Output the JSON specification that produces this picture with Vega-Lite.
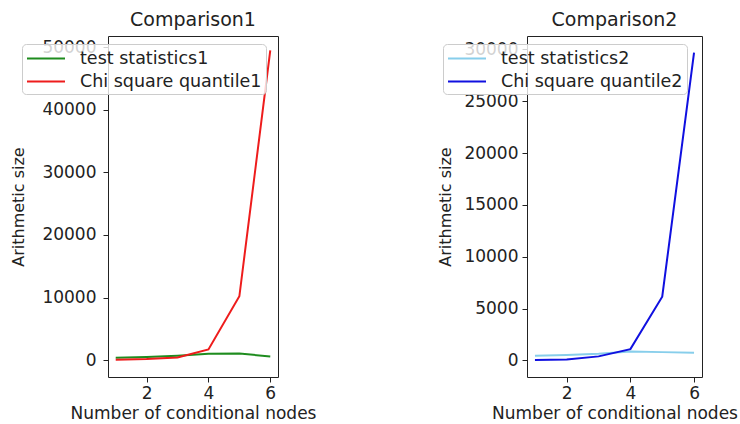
{
  "$schema": "https://vega.github.io/schema/vega-lite/v6.json",
  "padding": {"left": 10, "top": 10, "right": 0, "bottom": 0},
  "background": "white",
  "spacing": 120,
  "datasets": {
    "p1": [
      {"x": 1, "value": 370, "series": "test statistics1"},
      {"x": 2, "value": 480, "series": "test statistics1"},
      {"x": 3, "value": 690, "series": "test statistics1"},
      {"x": 4, "value": 1000, "series": "test statistics1"},
      {"x": 5, "value": 1050, "series": "test statistics1"},
      {"x": 6, "value": 590, "series": "test statistics1"},
      {"x": 1, "value": 50, "series": "Chi square quantile1"},
      {"x": 2, "value": 160, "series": "Chi square quantile1"},
      {"x": 3, "value": 430, "series": "Chi square quantile1"},
      {"x": 4, "value": 1700, "series": "Chi square quantile1"},
      {"x": 5, "value": 10200, "series": "Chi square quantile1"},
      {"x": 6, "value": 49500, "series": "Chi square quantile1"}
    ],
    "p2": [
      {"x": 1, "value": 450, "series": "test statistics2"},
      {"x": 2, "value": 520, "series": "test statistics2"},
      {"x": 3, "value": 650, "series": "test statistics2"},
      {"x": 4, "value": 860, "series": "test statistics2"},
      {"x": 5, "value": 800, "series": "test statistics2"},
      {"x": 6, "value": 740, "series": "test statistics2"},
      {"x": 1, "value": 40, "series": "Chi square quantile2"},
      {"x": 2, "value": 100, "series": "Chi square quantile2"},
      {"x": 3, "value": 390, "series": "Chi square quantile2"},
      {"x": 4, "value": 1090, "series": "Chi square quantile2"},
      {"x": 5, "value": 6150, "series": "Chi square quantile2"},
      {"x": 6, "value": 29700, "series": "Chi square quantile2"}
    ]
  },
  "config": {
    "font": "DejaVu Sans",
    "view": {"stroke": "#222", "strokeWidth": 1},
    "axis": {
      "grid": false, "domain": false, "tickColor": "#222", "tickSize": 5,
      "labelFontSize": 17, "labelColor": "#222", "labelFont": "DejaVu Sans",
      "titleFontSize": 16, "titleFontWeight": "normal", "titleColor": "#222", "titleFont": "DejaVu Sans"
    },
    "title": {"fontSize": 19, "fontWeight": "normal", "color": "#222", "font": "DejaVu Sans", "offset": 6},
    "legend": {
      "orient": "none", "title": null, "direction": "vertical",
      "symbolType": "M-1,0H3", "symbolSize": 361, "symbolStrokeWidth": 2,
      "labelFontSize": 17.5, "labelColor": "#222", "labelFont": "DejaVu Sans", "labelLimit": 0,
      "labelOffset": 33, "rowPadding": 4, "padding": 4,
      "fillColor": "rgba(255,255,255,0.8)", "strokeColor": "#cccccc", "cornerRadius": 4
    }
  },
  "resolve": {"scale": {"color": "independent"}},
  "hconcat": [
    {
      "width": 170, "height": 341,
      "title": "Comparison1",
      "data": {"name": "p1"},
      "mark": {"type": "line", "strokeWidth": 2},
      "encoding": {
        "x": {"field": "x", "type": "quantitative",
          "scale": {"domain": [0.75, 6.25], "nice": false, "zero": false},
          "axis": {"values": [2, 4, 6], "title": "Number of conditional nodes", "titleFontSize": 17, "labelPadding": 3, "titlePadding": 4}},
        "y": {"field": "value", "type": "quantitative",
          "scale": {"domain": [-2700, 51800], "nice": false, "zero": false},
          "axis": {"values": [0, 10000, 20000, 30000, 40000, 50000], "format": "d", "title": "Arithmetic size", "labelPadding": 7, "titlePadding": 15}},
        "color": {"field": "series", "type": "nominal",
          "scale": {"domain": ["test statistics1", "Chi square quantile1"], "range": ["#1e8c1e", "#ee1c1c"]},
          "legend": {"legendX": -86, "legendY": 8}}
      }
    },
    {
      "width": 175, "height": 341,
      "title": "Comparison2",
      "data": {"name": "p2"},
      "mark": {"type": "line", "strokeWidth": 2},
      "encoding": {
        "x": {"field": "x", "type": "quantitative",
          "scale": {"domain": [0.75, 6.25], "nice": false, "zero": false},
          "axis": {"values": [2, 4, 6], "title": "Number of conditional nodes", "titleFontSize": 17, "labelPadding": 3, "titlePadding": 4}},
        "y": {"field": "value", "type": "quantitative",
          "scale": {"domain": [-1600, 31300], "nice": false, "zero": false},
          "axis": {"values": [0, 5000, 10000, 15000, 20000, 25000, 30000], "format": "d", "title": "Arithmetic size", "labelPadding": 4, "titlePadding": 10}},
        "color": {"field": "series", "type": "nominal",
          "scale": {"domain": ["test statistics2", "Chi square quantile2"], "range": ["#87ceeb", "#1010e0"]},
          "legend": {"legendX": -84, "legendY": 8}}
      }
    }
  ]
}
